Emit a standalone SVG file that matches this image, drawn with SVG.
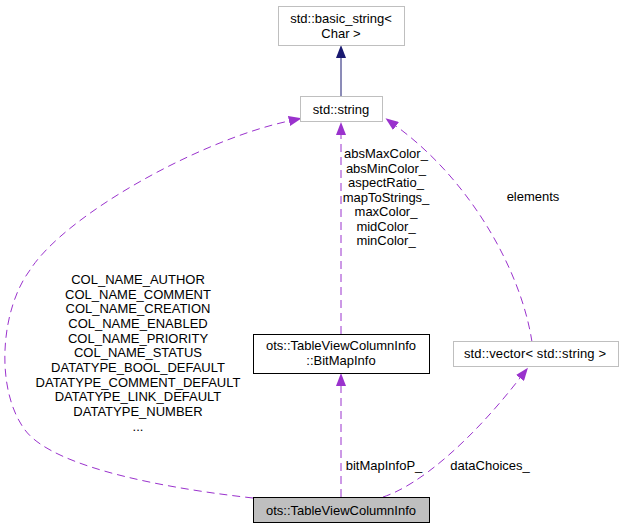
<svg xmlns="http://www.w3.org/2000/svg" width="624" height="529" viewBox="0 0 624 529">
<style>
text{font-family:"Liberation Sans",Arial,sans-serif;font-size:13px;fill:#000;text-anchor:middle}
.std{fill:#fff;stroke:#bfbfbf;stroke-width:1}
.cls{fill:#fff;stroke:#000;stroke-width:1}
.main{fill:#bfbfbf;stroke:#000;stroke-width:1}
.inh{fill:none;stroke:#191970;stroke-width:1}
.use{fill:none;stroke:#9a32cd;stroke-width:1;stroke-dasharray:8,5}
</style>
<defs>
<marker id="aN" markerUnits="userSpaceOnUse" markerWidth="13" markerHeight="10" refX="0" refY="5" orient="auto"><path d="M0,0 L13,5 L0,10 z" fill="#191970"/></marker>
<marker id="aP" markerUnits="userSpaceOnUse" markerWidth="13" markerHeight="10" refX="0" refY="5" orient="auto"><path d="M0,0 L13,5 L0,10 z" fill="#9a32cd"/></marker>
</defs>
<rect width="624" height="529" fill="#fff"/>
<g id="edges">
<path class="inh" d="M341,97 L341,58" marker-end="url(#aN)"/>
<path class="use" d="M341,334 L341,135" marker-end="url(#aP)"/>
<path class="use" d="M341,497 L341,386" marker-end="url(#aP)"/>
<path class="use" d="M253,498 C180,490 55,470 25,430 C-5,390 0,310 30,270 C65,215 200,140 289,121" marker-end="url(#aP)"/>
<path class="use" d="M532,342 C521,270 470,180 396,126" marker-end="url(#aP)"/>
<path class="use" d="M383,497 C420,485 472,440 520,378" marker-end="url(#aP)"/>
<text x="138" y="284">COL_NAME_AUTHOR</text>
<text x="138" y="298.7">COL_NAME_COMMENT</text>
<text x="138" y="313.3">COL_NAME_CREATION</text>
<text x="138" y="328">COL_NAME_ENABLED</text>
<text x="138" y="342.7">COL_NAME_PRIORITY</text>
<text x="138" y="357.3">COL_NAME_STATUS</text>
<text x="138" y="372">DATATYPE_BOOL_DEFAULT</text>
<text x="138" y="386.7">DATATYPE_COMMENT_DEFAULT</text>
<text x="138" y="401.3">DATATYPE_LINK_DEFAULT</text>
<text x="138" y="416">DATATYPE_NUMBER</text>
<text x="138" y="430.7">...</text>
<text x="386" y="158">absMaxColor_</text>
<text x="386" y="172.5">absMinColor_</text>
<text x="386" y="187">aspectRatio_</text>
<text x="386" y="201.5">mapToStrings_</text>
<text x="386" y="216">maxColor_</text>
<text x="386" y="230.5">midColor_</text>
<text x="386" y="245">minColor_</text>
<text x="533" y="201">elements</text>
<text x="384" y="470">bitMapInfoP_</text>
<text x="490" y="470">dataChoices_</text>
</g>
<g id="node_basic_string">
<rect class="std" x="278.5" y="6.5" width="126" height="39"/>
<text x="341" y="23">std::basic_string&lt;</text>
<text x="341" y="38">Char &gt;</text>
</g>
<g id="node_string">
<rect class="std" x="300.5" y="96.5" width="82" height="25"/>
<text x="341" y="114">std::string</text>
</g>
<g id="node_bitmapinfo">
<rect class="cls" x="253.5" y="334.5" width="176" height="39"/>
<text x="341" y="350">ots::TableViewColumnInfo</text>
<text x="341" y="365">::BitMapInfo</text>
</g>
<g id="node_vector">
<rect class="std" x="453.5" y="341.5" width="165" height="25"/>
<text x="535" y="358" textLength="142" lengthAdjust="spacing">std::vector&lt; std::string &gt;</text>
</g>
<g id="node_main">
<rect class="main" x="253.5" y="497.5" width="176" height="25"/>
<text x="341" y="515">ots::TableViewColumnInfo</text>
</g>
</svg>
